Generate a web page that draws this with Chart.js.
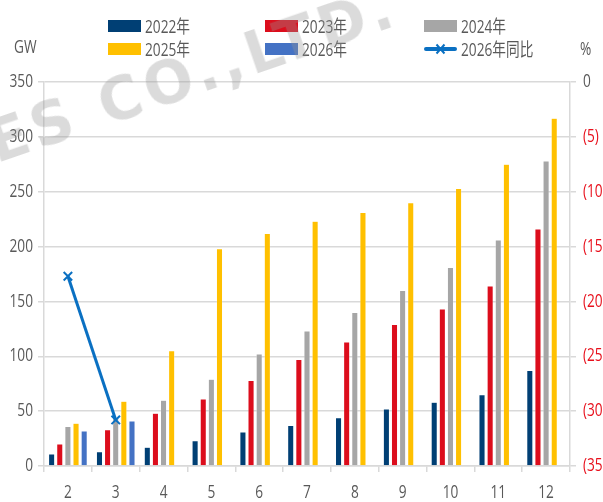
<!DOCTYPE html>
<html>
<head>
<meta charset="utf-8">
<script src="https://cdn.jsdelivr.net/npm/chart.js@4"></script>
<style>
  body { margin: 0; background: #fff; }
  #wrap { position: relative; width: 603px; height: 502px; overflow: hidden; font-family: "Open Sans", "Noto Sans CJK SC", sans-serif; }
  #myChart { position: absolute; left: 0; top: 0; }
  .txt { display: inline-block; transform: scaleX(0.76); transform-origin: 0 50%; white-space: nowrap; }
  .unit { position: absolute; color: #595959; font-size: 18px; line-height: 18px; }
  .legend { position: absolute; display: flex; align-items: center; color: #595959; font-size: 18px; line-height: 18px; }
  .legend .box { width: 33px; height: 12px; margin-right: 4px; flex: none; }
  .legend .ln { width: 33px; height: 12px; margin-right: 4px; flex: none; }
  .mark { position: absolute; color: rgba(150,150,150,0.34); font-family: "DejaVu Sans", sans-serif; font-weight: bold; font-size: 58px; line-height: 58px; letter-spacing: 5px; white-space: nowrap; pointer-events: none; transform-origin: 0 54px; transform: rotate(-19deg); }
</style>
</head>
<body>
<div id="wrap">
  <canvas id="myChart" width="603" height="502"></canvas>
  <div class="unit" style="left:14px;top:37px"><span class="txt">GW</span></div>
  <div class="unit" style="left:580px;top:39px"><span class="txt">%</span></div>
  <div id="legend"></div>
  <div class="mark" style="left:-2px;top:114px">ES CO.,LTD.</div>
</div>
<script>
const months = ['2', '3', '4', '5', '6', '7', '8', '9', '10', '11', '12'];
const y2022 = [11, 13, 17, 23, 31, 37, 44, 52, 58, 65, 87];
const y2023 = [20, 33, 48, 61, 78, 97, 113, 129, 143, 164, 216];
const y2024 = [36, 44, 60, 79, 102, 123, 140, 160, 181, 206, 278];
const y2025 = [39, 59, 105, 198, 212, 223, 231, 240, 253, 275, 317];
const y2026 = [32, 41, null, null, null, null, null, null, null, null, null];
const yoy2026 = [-17.7, -30.8, null, null, null, null, null, null, null, null, null];
const leftTicks = [0, 50, 100, 150, 200, 250, 300, 350];
const rightTicks = [0, -5, -10, -15, -20, -25, -30, -35];

const colors = {
  '2022年': '#003f74',
  '2023年': '#dc0d1c',
  '2024年': '#a6a6a6',
  '2025年': '#ffc000',
  '2026年': '#4472c4',
  '2026年同比': '#0a70c2'
};

function bar(label, values) {
  return {
    type: 'bar',
    label: label,
    data: values,
    backgroundColor: colors[label],
    borderColor: 'rgba(255,255,255,0.6)',
    borderWidth: { left: 0.5, right: 0.5, top: 0.5, bottom: 0 },
    categoryPercentage: 0.85,
    barPercentage: 0.75,
    yAxisID: 'y',
    order: 2
  };
}

const data = {
  labels: months,
  datasets: [
    bar('2022年', y2022),
    bar('2023年', y2023),
    bar('2024年', y2024),
    bar('2025年', y2025),
    bar('2026年', y2026),
    {
      type: 'line',
      label: '2026年同比',
      data: yoy2026,
      borderColor: colors['2026年同比'],
      backgroundColor: colors['2026年同比'],
      borderWidth: 3,
      pointStyle: 'crossRot',
      pointRadius: 6,
      pointBorderWidth: 2,
      yAxisID: 'y1',
      order: 1
    }
  ]
};

// tick labels are drawn squeezed sideways so they read like a narrow office font
const narrowLabels = {
  id: 'narrowLabels',
  afterDraw(chart) {
    const ctx = chart.ctx;
    const { x, y, y1 } = chart.scales;
    const put = (text, px, py, align, color) => {
      ctx.save();
      ctx.translate(px, py);
      ctx.scale(0.76, 1);
      ctx.font = '18px "Open Sans", sans-serif';
      ctx.textBaseline = 'middle';
      ctx.textAlign = align;
      ctx.fillStyle = color;
      ctx.fillText(text, 0, 0);
      ctx.restore();
    };
    y.ticks.forEach(t => put(String(t.value), 33, y.getPixelForValue(t.value), 'right', '#595959'));
    y1.ticks.forEach(t => {
      const v = t.value;
      put(v === 0 ? '0' : '(' + (-v) + ')', 583, y1.getPixelForValue(v), 'left', v === 0 ? '#595959' : '#e8101c');
    });
    months.forEach((m, i) => put(m, x.getPixelForValue(i), 493, 'center', '#595959'));
  }
};

const config = {
  type: 'bar',
  data: data,
  plugins: [narrowLabels],
  options: {
    responsive: false,
    animation: false,
    layout: { padding: { top: 82, bottom: 0, left: 0, right: 0 } },
    plugins: { legend: { display: false }, tooltip: { enabled: false } },
    scales: {
      x: {
        grid: { drawOnChartArea: false, color: '#d9d9d9', lineWidth: 1.5, tickLength: 6, offset: true },
        border: { color: '#d9d9d9', width: 1.5 },
        ticks: { display: false },
        afterFit: s => { s.height = 36; }
      },
      y: {
        position: 'left',
        min: 0,
        max: 350,
        afterBuildTicks: s => { s.ticks = leftTicks.map(v => ({ value: v })); },
        grid: { color: '#d9d9d9', lineWidth: 1.5, tickLength: 6 },
        border: { color: '#d9d9d9', width: 1.5 },
        ticks: { display: false },
        afterFit: s => { s.width = 44; }
      },
      y1: {
        position: 'right',
        min: -35,
        max: 0,
        afterBuildTicks: s => { s.ticks = rightTicks.map(v => ({ value: v })); },
        grid: { drawOnChartArea: false, color: '#d9d9d9', lineWidth: 1.5, tickLength: 6 },
        border: { color: '#d9d9d9', width: 1.5 },
        ticks: { display: false },
        afterFit: s => { s.width = 33; }
      }
    }
  }
};

const myChart = new Chart(document.getElementById('myChart'), config);

// legend in three columns, two rows
const legendPos = [
  ['2022年', 108, 17], ['2023年', 265, 17], ['2024年', 424, 17],
  ['2025年', 108, 40], ['2026年', 265, 40], ['2026年同比', 424, 40]
];
const legendEl = document.getElementById('legend');
legendPos.forEach(([label, x, y]) => {
  const item = document.createElement('div');
  item.className = 'legend';
  item.style.left = x + 'px';
  item.style.top = y + 'px';
  const c = colors[label];
  if (label === '2026年同比') {
    item.innerHTML = `<svg class="ln" width="33" height="12"><line x1="2" y1="6" x2="31" y2="6" stroke="${c}" stroke-width="4" stroke-linecap="round"/><path d="M12.5 1.5 L20.5 10.5 M20.5 1.5 L12.5 10.5" stroke="${c}" stroke-width="2"/></svg><span class="txt">${label}</span>`;
  } else {
    item.innerHTML = `<span class="box" style="background:${c}"></span><span class="txt">${label}</span>`;
  }
  legendEl.appendChild(item);
});
</script>
</body>
</html>
